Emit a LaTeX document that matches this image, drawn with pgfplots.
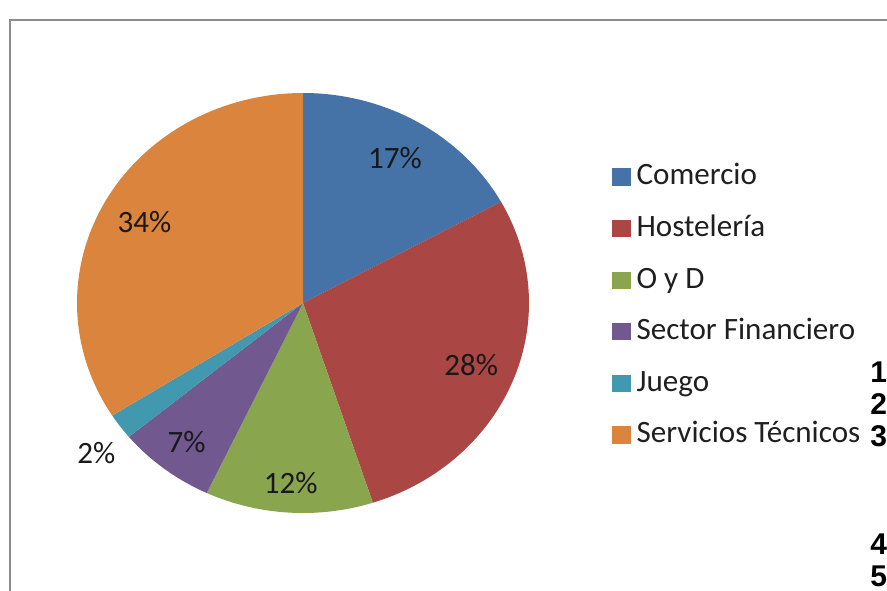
\documentclass[border=0pt]{standalone}
\usepackage{pgfplots}
\pgfplotsset{compat=1.18}
\usepackage{fontspec}
\setmainfont{Carlito}
\newfontfamily\arialbold{Liberation Sans Bold}
\definecolor{cblue}{HTML}{4572A7}
\definecolor{cred}{HTML}{AA4643}
\definecolor{cgreen}{HTML}{89A54E}
\definecolor{cpurple}{HTML}{71588F}
\definecolor{caqua}{HTML}{4198AF}
\definecolor{corange}{HTML}{DB843D}
\definecolor{frame}{HTML}{8C8C8C}

% value / name / colour / label radius / label angle shift
\def\piedata{17/Comercio/cblue/0.80/0,
  28/Hostelería/cred/0.80/0,
  12/O y D/cgreen/0.86/0,
  7/Sector Financiero/cpurple/0.84/0,
  2/Juego/caqua/1.16/2,
  34/Servicios Técnicos/corange/0.80/0}

\def\px{0.75pt}

\begin{document}
\begin{tikzpicture}
\useasboundingbox (0,0) rectangle ({887*\px},{-591*\px});
\clip (0,0) rectangle ({887*\px},{-591*\px});
\draw[frame, line width=1.5pt] ({9.5*\px},{-20.5*\px}) rectangle ({950*\px},{-650*\px});

\begin{axis}[
  at={({303*\px},{-303*\px})}, anchor=origin,
  scale only axis,
  width=339pt, height=315pt,
  xmin=-1, xmax=1, ymin=-1, ymax=1,
  hide axis, clip=false,
  font=\fontsize{23.3}{28}\selectfont,
  legend style={
    draw=none, fill=none,
    at={(axis cs:1.367,0.670)}, anchor=north west,
    inner sep=0pt, outer sep=0pt,
    row sep=16.7pt,
    text=black!88,
    nodes={inner sep=0pt, text height=17pt, text depth=5pt},
    column sep=4.5pt,
  },
  legend cell align=left,
  legend image code/.code={\fill[#1] (0pt,-6.4pt) rectangle (14pt,6.4pt);},
]
\gdef\startang{90}
\foreach \v/\n/\c/\r/\s in \piedata {
  \pgfmathsetmacro\endang{\startang-3.6*\v}
  \pgfmathsetmacro\midang{(\startang+\endang)/2+\s}
  \pgfmathsetmacro\lx{\r*cos(\midang)}
  \pgfmathsetmacro\ly{\r*sin(\midang)}
  \edef\tmp{
    \noexpand\addplot[fill=\c, draw=none, domain=\endang:\startang, samples=80]
      ({cos(x)},{sin(x)}) -- (axis cs:0,0) -- cycle;
    \noexpand\addlegendentry{\n}
    \noexpand\node[text=black!90] at (axis cs:\lx,\ly) {\v\%};
  }
  \tmp
  \xdef\startang{\endang}
}
\end{axis}

\foreach \t/\y in {1/382.5, 2/414.5, 3/446.5, 4/554, 5/586}
  \node[anchor=base west, inner sep=0pt, font=\arialbold\fontsize{22.5}{26}\selectfont]
    at ({870*\px},{-\y*\px}) {\t};
\end{tikzpicture}
\end{document}
